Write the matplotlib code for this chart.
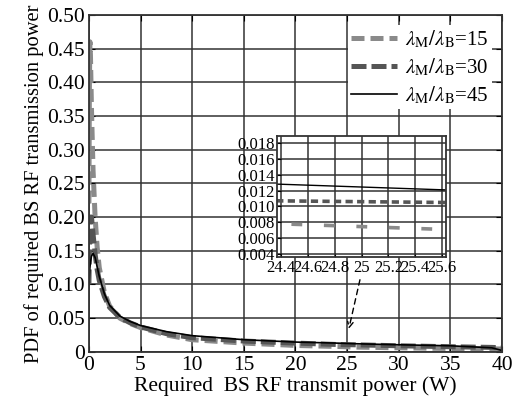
"""
PDF of required BS RF transmit power for three lambda_M/lambda_B ratios,
with a zoomed inset around 25 W.
"""
import matplotlib
matplotlib.use('Agg')
import matplotlib.pyplot as plt

plt.rcParams['font.family'] = ['Liberation Serif', 'DejaVu Serif']
plt.rcParams['mathtext.fontset'] = 'stix'

# data
power = [0.0, 0.05, 0.1, 0.15, 0.25, 0.4, 0.6, 0.8, 1.0, 1.5, 2, 3, 4, 5,
         7.5, 10, 15, 20, 24.4, 25.6, 30, 35, 39, 40]
pdf_15 = [0.22, 0.40, 0.46, 0.44, 0.36, 0.27, 0.20, 0.155, 0.125, 0.088, 0.068,
          0.050, 0.042, 0.036, 0.025, 0.018, 0.013, 0.0095, 0.0078, 0.0071,
          0.0060, 0.0050, 0.0045, 0.0042]
pdf_30 = [0.10, 0.15, 0.18, 0.20, 0.20, 0.175, 0.145, 0.122, 0.106, 0.082, 0.066,
          0.051, 0.043, 0.037, 0.027, 0.021, 0.016, 0.013, 0.0107, 0.0105,
          0.0090, 0.0076, 0.0066, 0.0060]
pdf_45 = [0.10, 0.115, 0.125, 0.133, 0.142, 0.146, 0.140, 0.126, 0.112, 0.086,
          0.069, 0.053, 0.045, 0.039, 0.030, 0.024, 0.018, 0.0145, 0.0128,
          0.0121, 0.0105, 0.0090, 0.0060, 0.0020]

labels = [r'$\lambda_{\rm M}/\lambda_{\rm B}$=15',
          r'$\lambda_{\rm M}/\lambda_{\rm B}$=30',
          r'$\lambda_{\rm M}/\lambda_{\rm B}$=45']

xticks = [0, 5, 10, 15, 20, 25, 30, 35, 40]
yticks = [0, 0.05, 0.10, 0.15, 0.20, 0.25, 0.30, 0.35, 0.40, 0.45, 0.50]
yticklabels = ['0', '0.05', '0.10', '0.15', '0.20', '0.25', '0.30', '0.35',
               '0.40', '0.45', '0.50']
inset_xticks = [24.4, 24.6, 24.8, 25, 25.2, 25.4, 25.6]
inset_xticklabels = ['24.4', '24.6', '24.8', '25', '25.2', '25.4', '25.6']
inset_yticks = [0.004, 0.006, 0.008, 0.010, 0.012, 0.014, 0.016, 0.018]
inset_yticklabels = ['0.004', '0.006', '0.008', '0.010', '0.012', '0.014',
                     '0.016', '0.018']

LIGHT = '#8a8a8a'
DARK = '#555555'

fig = plt.figure(figsize=(5.23, 4.12), dpi=100)
ax = fig.add_axes([0.170, 0.146, 0.790, 0.818])

ax.plot(power, pdf_15, color=LIGHT, lw=3.6, dashes=(2.6, 1.2), label=labels[0])
ax.plot(power, pdf_30, color=DARK, lw=3.6, dashes=(3, 1), label=labels[1])
ax.plot(power, pdf_45, color='black', lw=1.2, label=labels[2])

ax.set_xlim(0, 40)
ax.set_ylim(0, 0.5)
ax.set_xticks(xticks)
ax.set_yticks(yticks)
ax.set_yticklabels(yticklabels)
ax.tick_params(labelsize=15.5, direction='in', top=True, right=True, length=4,
               pad=3)
ax.grid(True, color='#333333', lw=1.1)
for sp in ax.spines.values():
    sp.set_color('#333333')
    sp.set_linewidth(1.3)
ax.set_xlabel('Required  BS RF transmit power (W)', fontsize=15.5, labelpad=1)
ax.set_ylabel('PDF of required BS RF transmission power', fontsize=14.8,
              labelpad=2)

leg = ax.legend(loc='upper right', fontsize=15, frameon=True, fancybox=False,
                edgecolor='none', framealpha=1, borderaxespad=0.5,
                handlelength=2.2, handletextpad=0.4, labelspacing=0.3,
                borderpad=0.15)

# arrow pointing from the inset to the zoomed region
ax.annotate('', xy=(25.1, 0.030), xytext=(26.3, 0.111),
            arrowprops=dict(arrowstyle='->', color='black', lw=1.0,
                            linestyle=(0, (4, 3))))

# inset
ins = fig.add_axes([0.530, 0.376, 0.323, 0.294])
ins.plot(power, pdf_15, color=LIGHT, lw=2.6, dashes=(3, 6))
ins.plot(power, pdf_30, color=DARK, lw=2.6, dashes=(2, 1.2))
ins.plot(power, pdf_45, color='black', lw=1.0)
ins.set_xlim(24.37, 25.63)
ins.set_ylim(0.0036, 0.0189)
ins.set_xticks(inset_xticks)
ins.set_xticklabels(inset_xticklabels)
ins.set_yticks(inset_yticks)
ins.set_yticklabels(inset_yticklabels)
ins.tick_params(labelsize=12, direction='in', length=3, pad=2)
ins.grid(True, color='#333333', lw=1.1)
for sp in ins.spines.values():
    sp.set_color('#333333')
    sp.set_linewidth(1.3)

fig.savefig('out.png', dpi=100)
plt.close()
